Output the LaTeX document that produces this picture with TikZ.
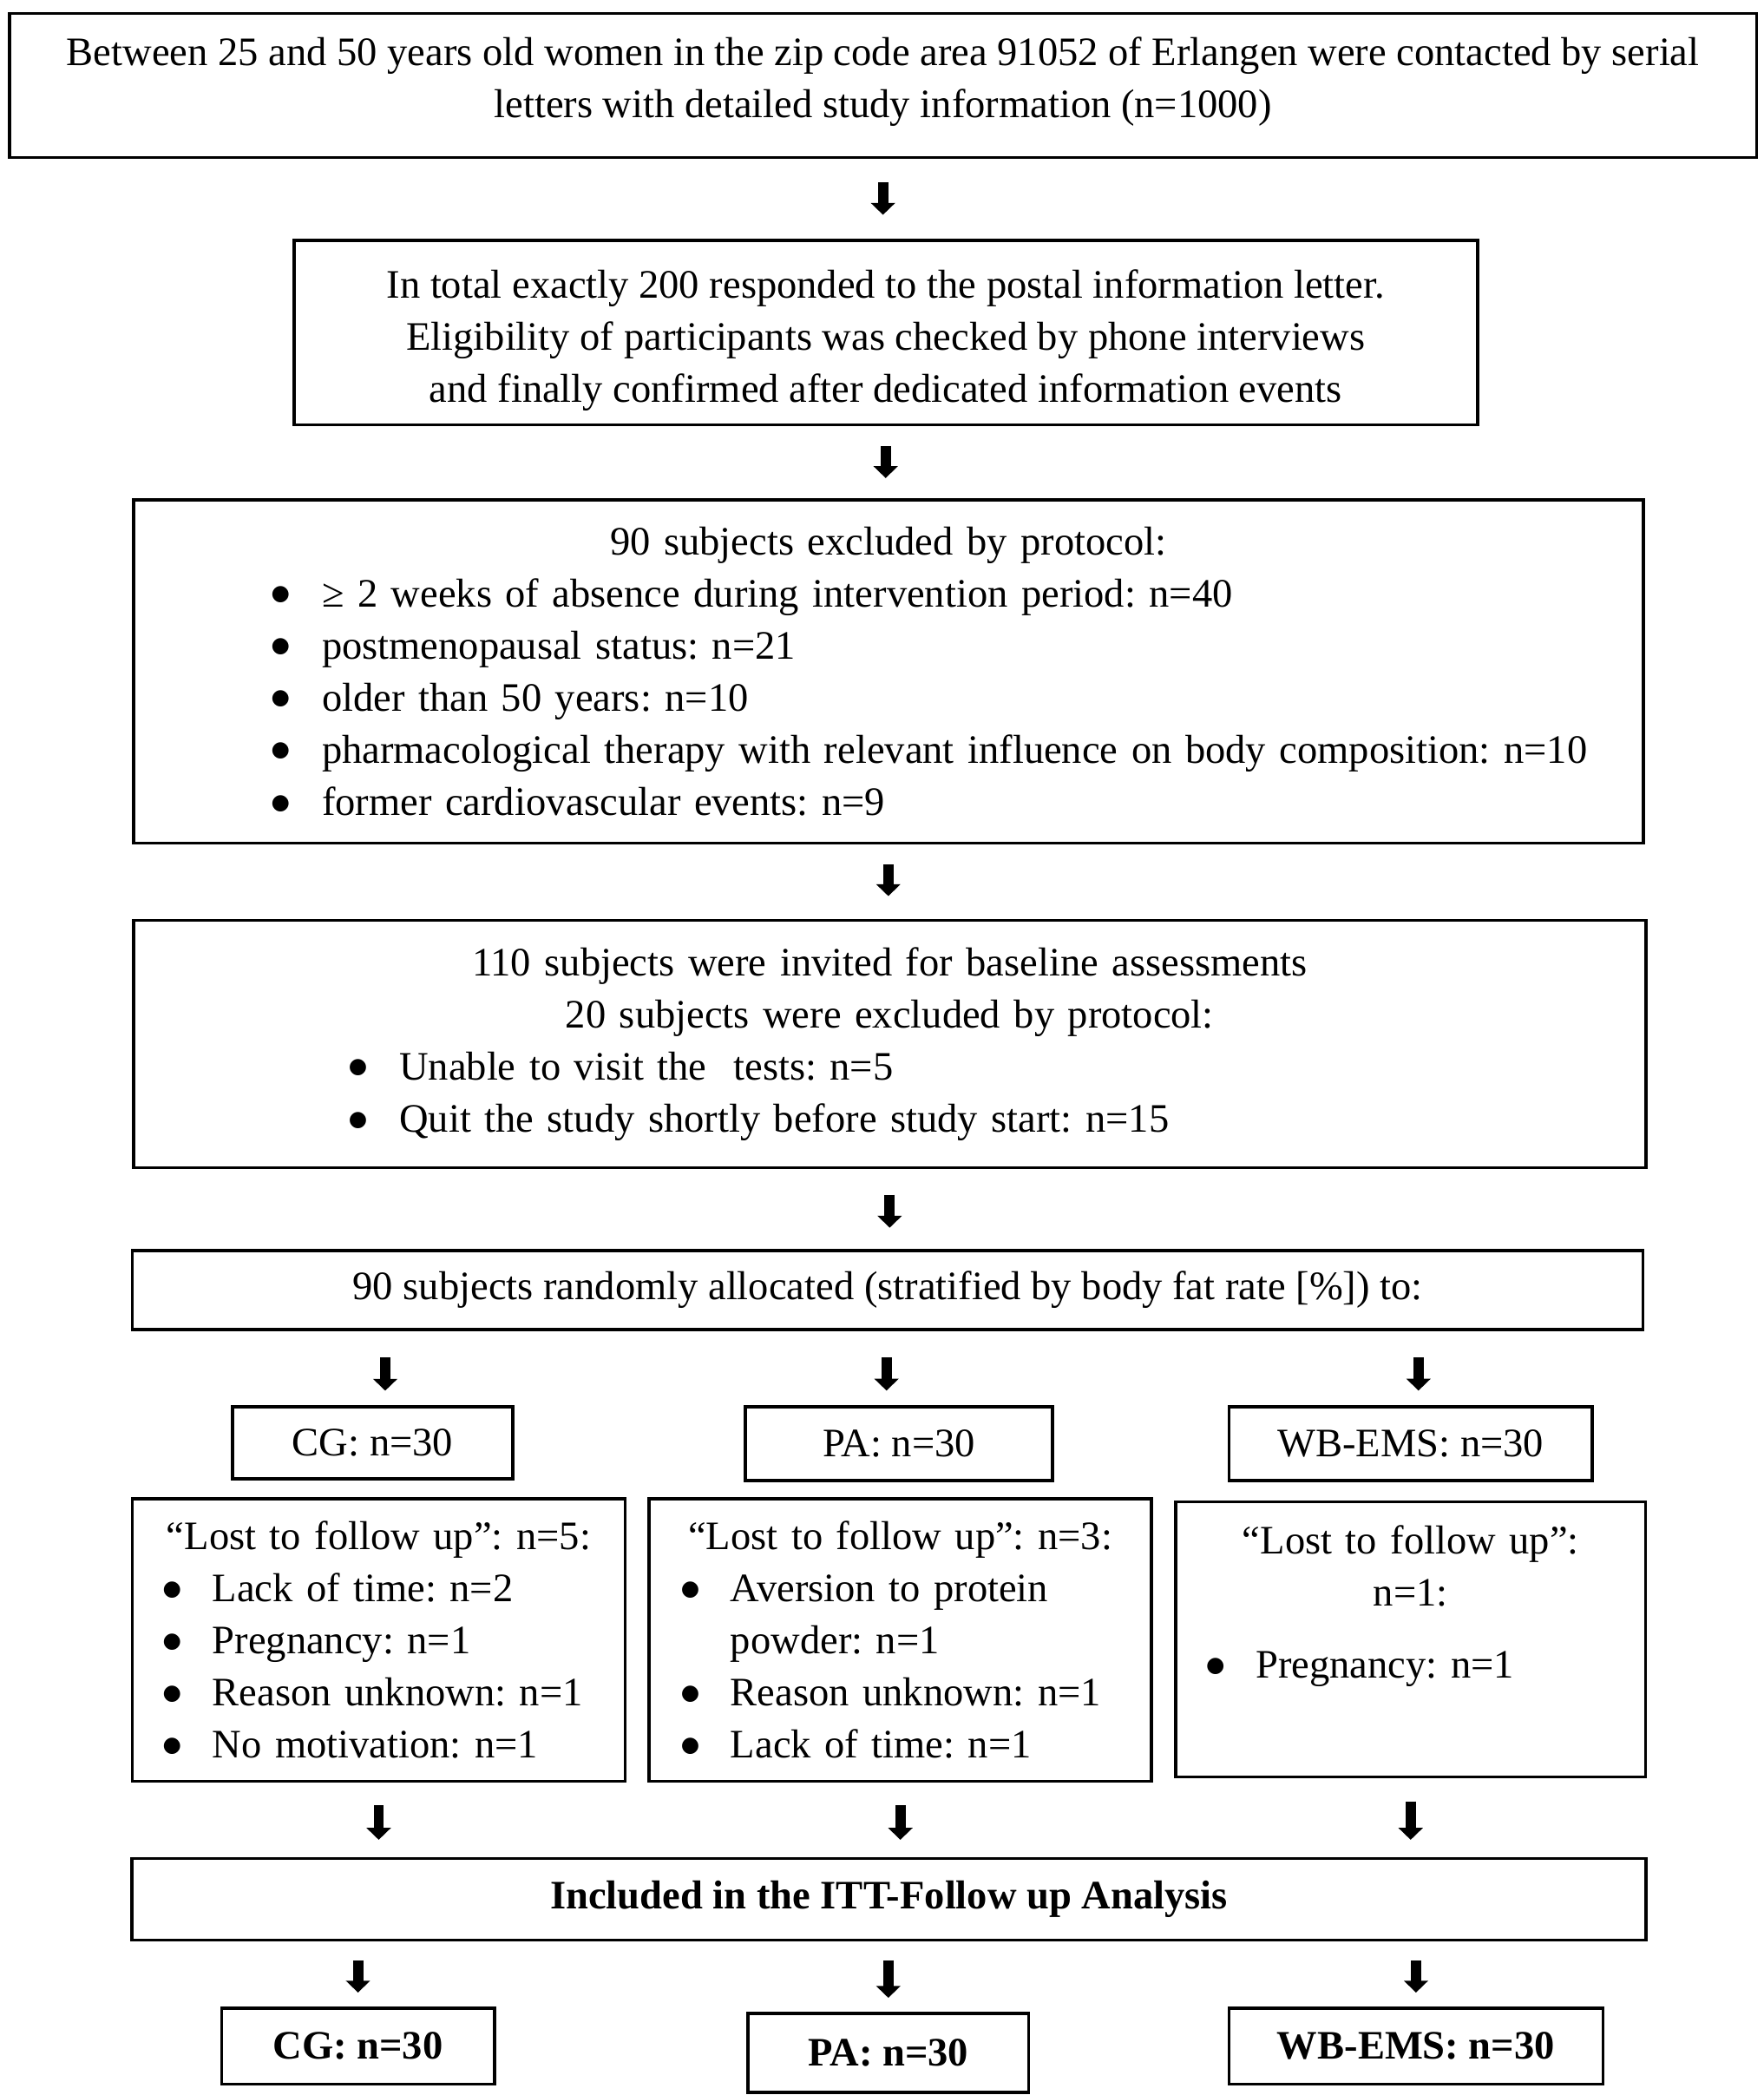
\documentclass[tikz,border=0pt]{standalone}
\usepackage{fontspec}
\setmainfont{Liberation Serif}
\newfontfamily\symfont{DejaVu Sans}
\usetikzlibrary{arrows.meta}
\setlength{\parindent}{0pt}
\frenchspacing

% bullet line: indent, gap to text, text
\newcommand{\bul}[3]{\hspace*{#1}\makebox[#2][l]{\raisebox{2.1pt}{\symfont\fontsize{6.8}{6.8}\selectfont ●}}\mbox{#3}}

\begin{document}
\begin{tikzpicture}[x=0.015cm, y=-0.015cm,
    box/.style={draw, line width=1pt, rectangle, inner sep=0pt, align=center,
      font=\fontsize{12.9}{16.65}\selectfont},
    listbox/.style={box, align=left},
    arr/.style={line width=3.3pt, -{Triangle[width=7.6pt,length=3.8pt]},
      shorten <=7pt, shorten >=7pt}]

    \useasboundingbox (0,0) rectangle (1320,1568);

    % Main column
    \node[box, minimum width=558.2pt, minimum height=46.1pt] (letters) at (661,64)
      {Between 25 and 50 years old women in the zip code area 91052 of Erlangen were contacted by serial\\
       letters with detailed study information (n=1000)\rule[-5.4pt]{0pt}{0pt}};

    \node[box, minimum width=378.1pt, minimum height=58.9pt] (reply) at (663,249)
      {\rule{0pt}{14pt}In total exactly 200 responded to the postal information letter.\\
       Eligibility of participants was checked by phone interviews\\
       and finally confirmed after dedicated information events};

    \node[listbox, text width=482.3pt, minimum height=109.7pt] (excl) at (665,502.5)
      {{\centering 90 subjects excluded by protocol:\par}
       \bul{44pt}{16.2pt}{≥ 2 weeks of absence during intervention period: n=40}\\
       \bul{44pt}{16.2pt}{postmenopausal status: n=21}\\
       \bul{44pt}{16.2pt}{older than 50 years: n=10}\\
       \bul{44pt}{16.2pt}{pharmacological therapy with relevant influence on body composition: n=10}\\
       \bul{44pt}{16.2pt}{former cardiovascular events: n=9}};

    \node[listbox, text width=483.1pt, minimum height=79pt] (invite) at (666,781.5)
      {{\centering 110 subjects were invited for baseline assessments\\
       20 subjects were excluded by protocol:\par}
       \bul{68.7pt}{16.2pt}{Unable to visit the\ \ tests: n=5}\\
       \bul{68.7pt}{16.2pt}{Quit the study shortly before study start: n=15}};

    \node[box, minimum width=482.7pt, minimum height=25.2pt] (alloc) at (664.5,965.5)
      {90 subjects randomly allocated (stratified by body fat rate [\%]) to:};

    % Groups
    \node[box, minimum width=89.6pt, minimum height=23pt] (cg) at (279,1080) {CG: n=30};
    \node[box, minimum width=98.2pt, minimum height=23.5pt] (pa) at (673,1080.5) {PA: n=30};
    \node[box, minimum width=116.1pt, minimum height=23.5pt] (wb) at (1056,1080.5) {WB-EMS: n=30};

    % Drop-outs
    \node[listbox, text width=157.5pt, minimum height=90.1pt] (lostcg) at (283.5,1227.5)
      {{\centering “Lost to follow up”: n=5:\par}
       \bul{9.8pt}{15.8pt}{Lack of time: n=2}\\
       \bul{9.8pt}{15.8pt}{Pregnancy: n=1}\\
       \bul{9.8pt}{15.8pt}{Reason unknown: n=1}\\
       \bul{9.8pt}{15.8pt}{No motivation: n=1}};

    \node[listbox, text width=160.5pt, minimum height=90.1pt] (lostpa) at (674,1227.5)
      {{\centering “Lost to follow up”: n=3:\par}
       \bul{10.2pt}{15.8pt}{Aversion to protein}\\
       \hspace*{26pt}powder: n=1\\
       \bul{10.2pt}{15.8pt}{Reason unknown: n=1}\\
       \bul{10.2pt}{15.8pt}{Lack of time: n=1}};

    \node[listbox, text width=150.2pt, minimum height=87.9pt] (lostwb) at (1056,1227)
      {{\centering “Lost to follow up”:\\ n=1:\par}
       \vspace{6.4pt}
       \bul{9.8pt}{15.8pt}{Pregnancy: n=1}\\[7.3pt]
       \mbox{}};

    % Analysis
    \node[box, minimum width=483.6pt, minimum height=26pt] (itt) at (665.5,1421.5)
      {\textbf{Included in the ITT-Follow up Analysis}};

    \node[box, minimum width=87.1pt, minimum height=24.3pt] (fincg) at (268,1531.5) {\textbf{CG: n=30}};
    \node[box, minimum width=89.6pt, minimum height=25.2pt] (finpa) at (665,1536.5) {\textbf{PA: n=30}};
    \node[box, minimum width=119.5pt, minimum height=24.3pt] (finwb) at (1060,1531.5) {\textbf{WB-EMS: n=30}};

    % Arrows
    \draw[arr, shorten <=7.3pt, shorten >=7.7pt] (letters.south) -- (letters.south |- reply.north);
    \draw[arr, shorten <=6.4pt, shorten >=6.4pt] (reply.south) -- (reply.south |- excl.north);
    \draw[arr, shorten <=6.4pt, shorten >=7.3pt] (excl.south) -- (excl.south |- invite.north);
    \draw[arr, shorten <=8.1pt, shorten >=6.8pt] (invite.south) -- (invite.south |- alloc.north);
    \foreach \g/\dx in {cg/4pt,pa/-4pt,wb/2.5pt}
      \draw[arr, shorten <=8.5pt, shorten >=4.7pt] ([xshift=\dx]alloc.south -| \g.north) -- ([xshift=\dx]\g.north);
    \foreach \g in {cg,pa,wb}
      \draw[arr, shorten <=7.3pt, shorten >=5.5pt] (lost\g.south) -- (lost\g.south |- itt.north);
    \foreach \g in {cg,pa,wb}
      \draw[arr, shorten <=6pt, shorten >=4.5pt] (itt.south -| fin\g.north) -- (fin\g.north);

\end{tikzpicture}
\end{document}
